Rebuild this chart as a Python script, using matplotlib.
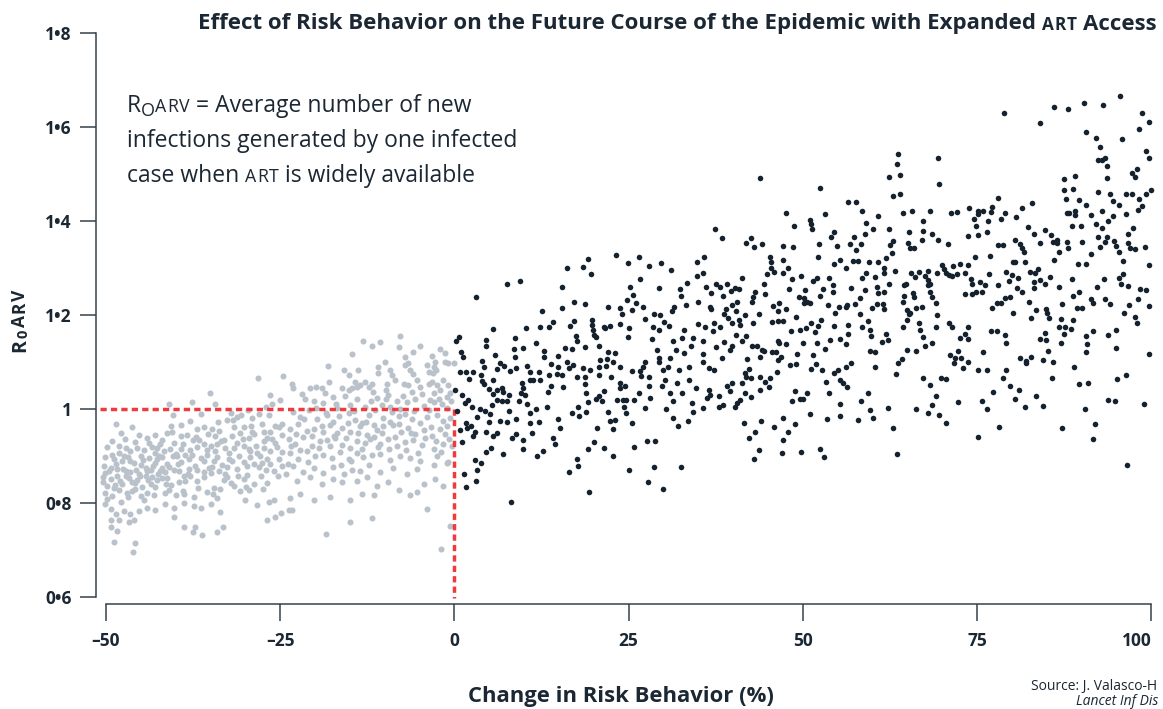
import matplotlib
matplotlib.use("Agg")
import matplotlib.pyplot as plt
from matplotlib.transforms import IdentityTransform

# ------------------------------------------------------------------
# values (change in risk behaviour %, R0ARV)
# ------------------------------------------------------------------

# risk behaviour reduced (-50 .. -24): grey points
grey_left = [
    (-28.2, 1.067), (-24.6, 1.070), (-35.1, 1.033), (-41.0, 1.010), (-37.6, 1.015), (-34.3, 1.010),
    (-26.4, 1.030), (-25.1, 1.019), (-26.2, 1.010), (-40.4, 0.987), (-36.4, 0.989), (-32.1, 0.992),
    (-31.2, 0.983), (-30.6, 0.987), (-29.0, 0.980), (-28.1, 0.990), (-26.6, 0.987),
    (-48.5, 0.969), (-46.3, 0.962), (-47.8, 0.948), (-45.2, 0.944), (-39.2, 0.966), (-40.7, 0.963),
    (-41.3, 0.948), (-37.0, 0.958), (-35.9, 0.962), (-34.8, 0.958), (-33.8, 0.953), (-32.6, 0.976),
    (-31.8, 0.976), (-31.7, 0.962), (-30.2, 0.962), (-29.2, 0.963), (-27.6, 0.968), (-27.3, 0.951),
    (-25.7, 0.963), (-25.2, 0.962), (-24.7, 0.969),
    (-38.4, 0.944), (-37.5, 0.935), (-37.1, 0.940), (-34.3, 0.943), (-33.1, 0.934), (-34.0, 0.925),
    (-31.9, 0.942), (-30.7, 0.949), (-29.5, 0.938), (-28.8, 0.946), (-26.9, 0.939), (-26.2, 0.936),
    (-24.7, 0.945),
    (-49.8, 0.919), (-49.1, 0.902), (-50.2, 0.898), (-48.2, 0.907), (-47.4, 0.900), (-46.6, 0.910),
    (-45.8, 0.930), (-45.5, 0.917), (-44.6, 0.913), (-43.4, 0.920), (-42.7, 0.916), (-42.2, 0.925),
    (-41.9, 0.934), (-43.0, 0.906), (-42.4, 0.899), (-41.7, 0.911), (-40.8, 0.914), (-40.0, 0.905),
    (-39.2, 0.915), (-37.9, 0.913), (-36.9, 0.919), (-35.9, 0.925), (-35.5, 0.912), (-35.0, 0.921),
    (-32.9, 0.917), (-32.4, 0.906), (-31.2, 0.928), (-30.2, 0.921), (-29.5, 0.914), (-28.3, 0.907),
    (-27.3, 0.918), (-26.4, 0.910), (-25.4, 0.920), (-24.7, 0.908),
    (-50.3, 0.879), (-49.3, 0.874), (-48.6, 0.882), (-47.7, 0.889), (-47.2, 0.868), (-46.0, 0.886),
    (-45.0, 0.881), (-44.3, 0.875), (-43.6, 0.871), (-42.9, 0.886), (-41.9, 0.874), (-41.2, 0.882),
    (-40.3, 0.870), (-39.3, 0.887), (-38.1, 0.893), (-37.2, 0.878), (-36.4, 0.896), (-35.2, 0.875),
    (-34.5, 0.889), (-33.3, 0.881), (-32.6, 0.876), (-31.9, 0.890), (-30.9, 0.899), (-30.2, 0.888),
    (-29.3, 0.897), (-28.8, 0.882), (-27.6, 0.886), (-26.9, 0.894), (-25.9, 0.868), (-24.7, 0.879),
    (-24.2, 0.861),
    (-50.5, 0.845), (-50.1, 0.863), (-49.3, 0.851), (-48.4, 0.857), (-47.7, 0.840), (-46.7, 0.853),
    (-46.2, 0.845), (-45.5, 0.848), (-44.8, 0.833), (-44.3, 0.858), (-43.6, 0.841), (-42.7, 0.850),
    (-41.9, 0.854), (-41.2, 0.853), (-40.7, 0.839), (-39.5, 0.844), (-38.6, 0.847), (-37.9, 0.858),
    (-36.9, 0.846), (-35.9, 0.855), (-34.5, 0.832), (-35.0, 0.864), (-33.6, 0.829), (-33.1, 0.848),
    (-31.7, 0.837), (-30.7, 0.826), (-30.2, 0.851), (-29.5, 0.828), (-28.8, 0.841), (-27.8, 0.857),
    (-26.9, 0.843),
    (-50.1, 0.822), (-49.1, 0.815), (-48.2, 0.828), (-47.0, 0.821), (-45.8, 0.829), (-45.0, 0.814),
    (-44.1, 0.822), (-43.1, 0.818), (-41.5, 0.821), (-40.0, 0.817), (-38.8, 0.819), (-37.4, 0.812),
    (-35.5, 0.823), (-34.0, 0.811), (-30.0, 0.806), (-28.3, 0.795), (-26.6, 0.802), (-25.9, 0.806),
    (-50.2, 0.797), (-49.3, 0.787), (-48.6, 0.776), (-47.4, 0.783), (-46.5, 0.776), (-45.3, 0.784),
    (-44.1, 0.789), (-42.9, 0.786), (-41.5, 0.797), (-40.3, 0.790), (-38.8, 0.801), (-37.4, 0.793),
    (-36.4, 0.790), (-35.0, 0.797), (-33.7, 0.781),
    (-49.3, 0.763), (-48.2, 0.763), (-46.7, 0.760), (-46.0, 0.763), (-49.3, 0.749), (-48.4, 0.741),
    (-40.3, 0.771), (-38.8, 0.749), (-37.2, 0.749), (-36.2, 0.732), (-37.5, 0.739), (-34.0, 0.739),
    (-33.2, 0.748), (-26.9, 0.764), (-25.7, 0.771), (-24.9, 0.778),
    (-48.8, 0.717), (-45.8, 0.715), (-46.1, 0.695),
    (-48.4, 0.872), (-49.8, 0.836), (-48.9, 0.831), (-47.2, 0.858), (-46.5, 0.867), (-45.3, 0.861),
    (-44.1, 0.868), (-43.4, 0.856), (-42.2, 0.869), (-41.5, 0.865), (-39.5, 0.868), (-38.8, 0.857),
    (-38.1, 0.872), (-35.9, 0.867), (-33.8, 0.869), (-32.6, 0.856), (-31.2, 0.873), (-29.7, 0.860),
    (-28.1, 0.876), (-26.4, 0.882), (-25.2, 0.893), (-39.8, 0.900), (-38.6, 0.903), (-42.7, 0.893),
    (-43.8, 0.896), (-45.0, 0.901), (-46.5, 0.889), (-47.2, 0.918), (-48.2, 0.921), (-35.5, 0.903),
    (-34.3, 0.911), (-29.3, 0.910), (-27.3, 0.932), (-40.3, 0.928), (-39.3, 0.943), (-44.1, 0.939),
    (-49.6, 0.868), (-48.9, 0.893), (-48.0, 0.846), (-47.5, 0.873), (-46.9, 0.897), (-46.3, 0.826),
    (-45.7, 0.871), (-45.1, 0.857), (-44.7, 0.891), (-44.0, 0.848), (-43.3, 0.879), (-42.6, 0.862),
    (-42.0, 0.897), (-41.4, 0.841), (-40.9, 0.876), (-40.4, 0.901), (-49.9, 0.808), (-47.9, 0.803),
    (-46.8, 0.812), (-44.6, 0.806), (-43.0, 0.833), (-41.0, 0.828), (-49.2, 0.931), (-47.3, 0.937),
    (-43.9, 0.928), (-42.9, 0.944), (-40.6, 0.951), (-50.4, 0.856), (-48.7, 0.838), (-45.9, 0.842),
    (-39.7, 0.884), (-38.9, 0.926), (-38.3, 0.861), (-37.7, 0.902), (-37.0, 0.871), (-36.6, 0.933),
    (-36.0, 0.889), (-35.4, 0.946), (-34.8, 0.876), (-34.1, 0.897), (-33.5, 0.931), (-32.9, 0.862),
    (-32.3, 0.894), (-31.6, 0.917), (-31.0, 0.858), (-30.4, 0.936), (-29.8, 0.879), (-29.1, 0.951),
    (-28.5, 0.922), (-27.9, 0.899), (-27.1, 0.871), (-26.5, 0.952), (-25.8, 0.927), (-25.3, 0.858),
    (-39.0, 0.826), (-36.8, 0.832), (-34.6, 0.820), (-32.1, 0.842), (-29.9, 0.834), (-27.4, 0.829),
    (-38.0, 0.975), (-33.9, 0.972), (-29.6, 0.997), (-27.0, 1.004),
]

# risk behaviour reduced (-24 .. 0): grey points
grey_right = [
    (-7.8, 1.156), (-13.1, 1.145), (-10.7, 1.143), (-11.8, 1.134), (-8.0, 1.132), (-4.9, 1.134),
    (-6.0, 1.122), (-1.4, 1.120), (-14.7, 1.117), (-7.1, 1.110), (-6.6, 1.097), (-7.1, 1.093),
    (-6.4, 1.083), (-3.2, 1.112), (-2.8, 1.100), (-2.9, 1.090), (-2.6, 1.083), (-3.1, 1.076),
    (-4.0, 1.093), (-3.7, 1.079), (-1.3, 1.100), (-0.9, 1.097), (-0.1, 1.097), (-18.2, 1.091),
    (-10.9, 1.090), (-11.0, 1.077), (-15.8, 1.083), (-15.1, 1.072), (-9.2, 1.083), (-9.0, 1.072),
    (-8.5, 1.061),
    (-23.3, 1.054), (-23.1, 1.044), (-13.5, 1.051), (-12.8, 1.058), (-12.3, 1.047), (-14.2, 1.058),
    (-14.0, 1.047), (-11.9, 1.054), (-11.7, 1.037), (-9.7, 1.054), (-9.8, 1.040), (-9.5, 1.029),
    (-7.3, 1.054), (-6.6, 1.051), (-6.1, 1.037), (-5.4, 1.061), (-5.0, 1.047), (-3.7, 1.054),
    (-3.2, 1.058), (-2.5, 1.051), (-2.0, 1.040), (-3.0, 1.033), (-3.5, 1.019), (-1.6, 1.061),
    (-0.9, 1.051), (-1.1, 1.026), (-0.6, 1.033), (-20.7, 1.044), (-19.8, 1.047), (-19.0, 1.044),
    (-18.6, 1.033), (-16.2, 1.044), (-15.2, 1.040), (-14.7, 1.044),
    (-21.4, 1.021), (-20.2, 1.016), (-18.8, 1.012), (-17.4, 1.025), (-17.0, 1.010), (-15.7, 1.028),
    (-15.0, 1.008), (-14.0, 1.022), (-12.8, 1.004), (-12.0, 1.017), (-11.1, 1.024), (-10.4, 1.009),
    (-9.2, 1.005), (-8.3, 1.018), (-7.8, 1.001), (-6.8, 1.014), (-5.6, 1.021), (-4.4, 1.006),
    (-3.0, 1.015), (-1.8, 1.010), (-1.1, 1.003), (-0.5, 1.016),
    (-23.1, 0.993), (-22.1, 0.984), (-20.9, 0.997), (-19.7, 0.978), (-18.3, 0.988), (-17.4, 0.972),
    (-16.6, 0.986), (-15.2, 0.991), (-14.2, 0.977), (-13.3, 0.970), (-12.3, 0.987), (-11.6, 0.966),
    (-10.2, 0.981), (-9.2, 0.973), (-8.0, 0.985), (-7.1, 0.990), (-6.1, 0.979), (-4.9, 0.971),
    (-4.0, 0.984), (-2.5, 0.988), (-1.6, 0.974), (-0.6, 0.980),
    (-23.6, 0.958), (-22.4, 0.969), (-21.2, 0.953), (-20.2, 0.957), (-19.0, 0.963), (-17.8, 0.966),
    (-16.9, 0.948), (-16.2, 0.959), (-15.0, 0.951), (-13.5, 0.964), (-12.6, 0.945), (-11.1, 0.955),
    (-10.4, 0.949), (-8.8, 0.965), (-7.6, 0.952), (-6.6, 0.960), (-5.6, 0.946), (-4.4, 0.956),
    (-3.2, 0.943), (-2.0, 0.958), (-1.1, 0.964),
    (-23.8, 0.936), (-22.9, 0.926), (-21.7, 0.940), (-20.5, 0.922), (-19.3, 0.931), (-18.3, 0.934),
    (-17.1, 0.939), (-16.2, 0.924), (-15.0, 0.918), (-14.0, 0.932), (-12.8, 0.927), (-11.6, 0.941),
    (-10.7, 0.925), (-9.5, 0.936), (-8.3, 0.921), (-7.1, 0.929), (-5.9, 0.934), (-4.7, 0.923),
    (-3.0, 0.915), (-1.6, 0.926),
    (-23.6, 0.907), (-22.4, 0.894), (-21.2, 0.911), (-20.0, 0.899), (-18.8, 0.903), (-17.6, 0.895),
    (-16.4, 0.908), (-15.2, 0.893), (-14.0, 0.906), (-13.1, 0.897), (-11.9, 0.902), (-10.7, 0.905),
    (-9.2, 0.892), (-7.8, 0.901), (-6.4, 0.896), (-4.9, 0.889), (-2.5, 0.900), (-1.1, 0.886),
    (-23.1, 0.879), (-21.7, 0.867), (-20.2, 0.874), (-18.8, 0.863), (-17.4, 0.876), (-15.9, 0.861),
    (-14.7, 0.870), (-13.5, 0.868), (-12.3, 0.881), (-10.7, 0.866), (-8.8, 0.875), (-6.8, 0.862),
    (-5.4, 0.873), (-3.0, 0.880),
    (-22.6, 0.846), (-20.7, 0.855), (-19.0, 0.840), (-17.4, 0.852), (-16.2, 0.845), (-14.0, 0.847),
    (-12.6, 0.855), (-11.1, 0.836), (-9.5, 0.844), (-8.0, 0.827), (-6.4, 0.817), (-5.3, 0.824),
    (-4.4, 0.840), (-2.8, 0.851), (-1.6, 0.836),
    (-23.6, 0.810), (-22.1, 0.820), (-20.2, 0.806), (-17.8, 0.813), (-15.0, 0.806), (-13.3, 0.820),
    (-11.6, 0.817), (-4.0, 0.788), (-0.9, 0.888), (-23.7, 0.786), (-23.3, 0.786), (-15.0, 0.760),
    (-11.9, 0.769), (-18.5, 0.735), (-1.9, 0.702), (-0.7, 0.751),
    (-23.9, 0.883), (-23.4, 0.921), (-22.7, 0.947), (-22.2, 0.912), (-21.6, 0.978), (-21.0, 0.887),
    (-20.4, 0.943), (-19.9, 1.002), (-19.4, 0.916), (-18.9, 0.952), (-18.5, 0.992), (-17.9, 0.921),
    (-17.3, 0.943), (-16.8, 1.003), (-16.3, 0.881), (-15.6, 0.938), (-15.3, 0.971), (-14.9, 0.889),
    (-14.4, 0.995), (-13.8, 0.948), (-13.2, 0.915), (-12.7, 0.972), (-12.1, 0.937), (-11.4, 0.998),
    (-10.9, 0.919), (-10.3, 0.963), (-9.8, 1.021), (-9.4, 0.915), (-8.9, 0.994), (-8.5, 0.941),
    (-7.9, 0.968), (-7.4, 1.027), (-6.9, 0.913), (-6.3, 0.948), (-5.8, 0.995), (-5.2, 0.907),
    (-4.7, 1.032), (-4.2, 0.939), (-3.6, 0.997), (-3.3, 0.962), (-2.7, 0.931), (-2.2, 1.022),
    (-1.9, 0.908), (-1.4, 0.947), (-0.8, 0.936), (-0.3, 0.921), (-21.9, 1.031), (-18.0, 1.058),
    (-13.9, 1.082), (-10.0, 1.101), (-5.9, 1.074), (-2.1, 1.128),
]

# risk behaviour increased (0 .. 35): dark points
dark_low = [
    (0.6, 1.154), (0.2, 1.144), (0.9, 1.122), (1.2, 1.110), (0.8, 1.078), (1.6, 1.078), (0.1, 1.040),
    (2.1, 1.064), (2.6, 1.078), (1.1, 1.029), (0.3, 0.996), (1.5, 1.012), (2.0, 1.020), (2.5, 1.005),
    (1.7, 0.971), (0.8, 0.956), (2.4, 0.963), (1.8, 0.959), (1.1, 0.929), (2.9, 0.951), (2.7, 0.942),
    (3.2, 0.984), (3.1, 1.238), (4.0, 1.103), (4.2, 1.090), (3.8, 1.073), (3.9, 1.059), (4.2, 1.054),
    (3.7, 1.000), (4.4, 0.995), (4.6, 0.952), (3.0, 0.892), (3.2, 0.871), (3.8, 0.885), (1.4, 0.861),
    (1.6, 0.834), (3.1, 0.847), (4.9, 0.973), (4.6, 1.134), (4.6, 1.146),
    (7.5, 1.266), (9.4, 1.273), (5.6, 1.170), (5.8, 1.115), (6.6, 1.098), (7.1, 1.092), (6.1, 1.085),
    (5.5, 1.062), (5.0, 1.043), (5.5, 1.032), (6.1, 1.041), (6.8, 1.044), (7.0, 1.037), (6.1, 1.020),
    (6.8, 1.017), (7.5, 1.017), (7.8, 1.030), (5.4, 1.008), (5.1, 0.989), (6.6, 0.975), (7.5, 0.973),
    (7.8, 0.995), (8.0, 1.081), (8.7, 1.152), (8.6, 1.127), (8.7, 1.110), (8.9, 1.087), (9.9, 1.130),
    (9.2, 1.017), (8.9, 0.978), (9.7, 1.055), (9.5, 1.034), (9.9, 1.044), (10.1, 1.030), (10.4, 1.010),
    (10.9, 0.991), (10.8, 0.971), (10.4, 1.092), (10.9, 1.078), (10.9, 1.062), (11.3, 1.062),
    (11.7, 1.140), (10.3, 1.172), (12.3, 1.174), (12.6, 1.208), (13.6, 1.174), (14.2, 1.185),
    (12.9, 1.124), (12.9, 1.110), (12.2, 1.078), (12.3, 1.062), (11.7, 1.000), (12.2, 0.973),
    (11.2, 0.949), (8.2, 0.938), (8.8, 0.947), (9.8, 0.935), (9.8, 0.915), (11.8, 0.901), (12.7, 0.910),
    (6.9, 0.904), (5.3, 0.917), (4.6, 0.908), (6.1, 0.950), (5.5, 0.942), (8.1, 0.802), (13.3, 1.005),
    (13.4, 1.037), (13.9, 1.048), (13.6, 1.073), (13.9, 1.096), (14.8, 1.113), (14.8, 1.090),
    (14.7, 1.075), (15.4, 1.073), (15.6, 1.047), (14.9, 0.979), (15.1, 0.959), (14.2, 0.938),
    (14.5, 0.925), (15.5, 1.259), (15.4, 1.215), (15.8, 1.130), (16.1, 1.101), (16.4, 1.088),
    (16.2, 1.301), (16.6, 1.176), (16.8, 1.127), (17.2, 1.227), (17.2, 1.188), (17.5, 1.156),
    (17.6, 1.144), (17.0, 1.094), (17.6, 1.069), (16.8, 0.991), (17.8, 1.005), (17.9, 0.986),
    (17.6, 0.894), (17.8, 0.879), (16.5, 0.866), (18.4, 1.303), (18.7, 1.223), (19.2, 1.320),
    (19.6, 1.288), (18.4, 1.087), (18.8, 1.132), (18.8, 1.068), (18.8, 1.054), (18.9, 1.035),
    (18.9, 0.993), (19.2, 1.015), (19.5, 1.083), (19.7, 1.190), (19.7, 1.179), (19.9, 1.169),
    (20.0, 1.158), (20.3, 1.154), (20.0, 0.930), (19.2, 0.915), (19.3, 0.823), (20.4, 0.959),
    (20.3, 1.022), (20.8, 1.027), (20.7, 1.073), (20.8, 1.090), (20.9, 1.105), (20.8, 1.133),
    (21.4, 1.174), (21.6, 1.172), (21.2, 1.016), (21.5, 1.039), (21.5, 0.918), (21.9, 1.106),
    (21.8, 1.092), (22.1, 1.122), (22.0, 1.216), (22.3, 1.177), (22.5, 1.069), (22.1, 0.993),
    (22.3, 0.975), (22.8, 1.099), (23.0, 1.120), (22.8, 0.899), (22.7, 0.958), (23.1, 0.977),
    (23.2, 1.327), (23.3, 1.020), (23.7, 1.090), (23.7, 1.215), (23.8, 1.181), (23.8, 1.055),
    (23.8, 1.044), (24.0, 1.203), (24.2, 1.020), (24.3, 1.005), (24.5, 1.048), (24.6, 1.020),
    (24.6, 0.991), (24.7, 1.231), (24.9, 1.310), (25.0, 1.172), (24.9, 1.154), (25.2, 1.259),
    (25.5, 1.211), (25.6, 1.243), (25.5, 1.080), (25.5, 0.971), (25.1, 0.871), (25.8, 0.920),
    (25.7, 1.020), (26.1, 1.225), (26.5, 1.323), (26.7, 1.276), (26.5, 1.034), (26.7, 1.080),
    (27.0, 1.218), (26.8, 1.071), (27.1, 1.090), (27.3, 1.101), (27.4, 1.191), (27.4, 1.003),
    (27.6, 0.931), (27.8, 0.844), (27.9, 1.305), (27.9, 1.068), (27.9, 1.048), (28.1, 1.023),
    (28.4, 1.149), (28.5, 1.174), (28.7, 1.202), (28.7, 0.876), (28.8, 0.932), (29.0, 1.126),
    (29.3, 1.108), (29.4, 1.101), (29.4, 1.257), (29.4, 1.169), (29.5, 1.200), (29.7, 1.310),
    (29.8, 1.048), (29.9, 0.830), (30.0, 1.083), (30.1, 1.186), (30.2, 1.062), (30.4, 1.000),
    (30.7, 1.089), (30.8, 1.176), (31.0, 1.108), (31.0, 1.035), (31.1, 1.295), (31.2, 1.209),
    (31.3, 1.144), (31.3, 0.980), (31.4, 1.016), (31.5, 1.217), (31.8, 1.126), (31.9, 1.056),
    (32.1, 0.963), (32.2, 1.083), (32.3, 1.255), (32.5, 0.876), (32.5, 1.241), (32.6, 1.151),
    (32.7, 1.035), (32.9, 1.169), (33.0, 1.119), (33.3, 1.222), (33.4, 1.269), (33.5, 0.975),
    (33.6, 1.062), (33.7, 1.090), (33.9, 1.133), (34.1, 1.012), (34.2, 0.993), (34.3, 1.152),
    (34.6, 1.044), (34.8, 1.312), (34.8, 1.282), (34.9, 1.181), (35.0, 1.227),
]

# risk behaviour increased (35 .. 70): dark points
dark_mid = [
    (43.9, 1.492), (37.4, 1.383), (38.4, 1.364), (35.8, 1.323), (35.7, 1.289), (41.3, 1.279),
    (36.1, 1.259), (36.8, 1.246), (37.5, 1.266), (38.1, 1.259), (38.6, 1.241), (39.1, 1.267),
    (39.7, 1.251), (40.2, 1.257), (40.9, 1.255), (40.6, 1.228), (39.8, 1.221), (39.0, 1.212),
    (38.7, 1.203), (36.8, 1.212), (36.7, 1.216), (36.0, 1.175), (37.3, 1.184), (37.1, 1.166),
    (38.1, 1.174), (39.2, 1.193), (39.9, 1.182), (40.4, 1.208), (40.9, 1.189), (41.0, 1.179),
    (41.7, 1.201), (35.6, 1.145), (35.7, 1.118), (35.7, 1.100), (36.5, 1.088), (37.2, 1.082),
    (37.5, 1.131), (38.4, 1.108), (38.7, 1.143), (39.5, 1.125), (39.9, 1.133), (40.4, 1.157),
    (41.2, 1.145), (41.9, 1.156), (35.7, 1.003), (36.2, 1.023), (36.6, 1.040), (36.7, 1.030),
    (37.9, 1.028), (37.9, 1.005), (38.6, 1.008), (39.1, 1.050), (39.5, 1.039), (39.9, 1.055),
    (40.3, 1.005), (40.5, 1.012), (41.0, 1.019), (41.2, 1.055), (41.7, 1.033), (41.5, 0.970),
    (41.7, 1.076), (41.9, 1.069), (42.2, 1.086), (42.5, 1.065), (42.5, 1.026), (42.3, 0.938),
    (43.1, 0.952), (43.0, 0.893), (43.7, 0.913), (44.0, 0.975), (42.0, 1.106), (42.7, 1.134),
    (43.4, 1.133), (44.2, 1.125), (44.4, 1.123), (43.9, 1.110), (43.8, 1.069), (43.9, 1.040),
    (44.6, 1.058), (45.1, 1.047), (45.3, 1.065), (45.8, 0.961), (45.5, 1.122), (46.2, 1.122),
    (46.3, 1.078), (46.4, 1.104), (46.6, 1.141), (46.8, 1.111), (47.2, 0.980), (47.2, 0.933),
    (47.0, 0.906), (47.8, 0.952), (48.9, 0.968), (48.4, 1.018), (48.9, 1.039), (49.0, 1.096),
    (48.1, 1.094), (49.2, 1.118), (50.0, 1.141), (49.6, 1.168), (50.5, 1.172), (51.1, 1.182),
    (51.8, 1.164), (51.5, 1.115), (51.9, 1.095), (51.1, 1.085), (52.7, 1.084), (53.2, 1.127),
    (52.0, 1.140), (52.1, 1.177), (52.6, 1.189), (49.6, 1.021), (50.0, 1.021), (50.6, 1.035),
    (51.0, 0.989), (49.8, 0.909), (52.5, 0.915), (53.0, 0.897), (53.4, 0.978), (53.7, 1.035),
    (53.3, 1.058), (45.8, 1.291), (45.3, 1.324), (45.4, 1.312), (45.4, 1.300), (44.8, 1.287),
    (44.4, 1.265), (44.6, 1.245), (43.1, 1.248), (42.8, 1.239), (42.7, 1.227), (43.7, 1.203),
    (42.9, 1.182), (41.8, 1.354), (42.6, 1.363), (43.0, 1.345), (44.2, 1.352), (47.2, 1.347),
    (48.6, 1.345), (47.6, 1.416), (48.7, 1.389), (47.2, 1.316), (47.8, 1.301), (47.1, 1.290),
    (48.4, 1.277), (48.0, 1.255), (45.7, 1.219), (46.6, 1.225), (46.5, 1.208), (47.6, 1.212),
    (47.1, 1.188), (47.6, 1.138), (49.0, 1.195), (46.4, 1.188), (45.5, 1.186), (46.5, 1.145),
    (48.3, 1.165), (49.7, 1.284), (49.4, 1.239), (50.3, 1.253), (50.2, 1.237), (50.1, 1.226),
    (50.6, 1.228), (51.0, 1.226), (51.0, 1.403), (51.1, 1.394), (51.3, 1.383), (52.2, 1.324),
    (52.3, 1.352), (51.4, 1.272), (52.0, 1.278), (52.5, 1.241), (52.9, 1.255), (52.5, 1.471),
    (53.2, 1.415), (54.0, 1.365), (54.4, 1.377), (54.9, 1.347), (54.5, 1.308), (53.8, 1.279),
    (54.3, 1.264), (54.3, 1.250), (53.6, 1.221), (54.6, 1.205), (54.5, 1.177), (53.9, 1.147),
    (54.5, 1.077), (55.1, 1.083), (55.3, 1.062), (55.8, 1.055), (56.4, 1.047), (56.2, 1.089),
    (56.9, 1.097), (55.4, 1.010), (55.3, 0.985), (55.4, 1.148), (56.2, 1.138), (56.5, 1.159),
    (56.5, 1.179), (56.2, 1.216), (56.3, 1.221), (55.2, 1.218), (55.4, 1.316), (56.2, 1.300),
    (56.5, 1.440), (57.6, 1.440), (57.3, 1.365), (56.8, 1.351), (57.6, 1.338), (57.2, 1.315),
    (57.9, 1.315), (58.5, 1.421), (59.0, 1.396), (58.9, 1.372), (58.3, 1.351), (56.9, 1.258),
    (57.5, 1.223), (58.2, 1.237), (58.5, 1.278), (59.0, 1.289), (58.9, 1.253), (58.2, 1.202),
    (58.5, 1.175), (59.3, 1.187), (59.6, 1.168), (59.8, 1.155), (59.7, 1.124), (60.4, 1.122),
    (60.4, 1.090), (59.3, 1.035), (58.4, 1.018), (59.6, 0.998), (60.0, 0.980), (57.9, 0.977),
    (60.0, 1.382), (60.8, 1.411), (59.5, 1.313), (59.9, 1.214), (60.4, 1.281), (60.6, 1.260),
    (60.8, 1.247), (60.7, 1.223), (61.5, 1.223), (61.7, 1.213), (60.8, 1.313), (61.6, 1.289),
    (61.7, 1.300), (61.9, 1.321), (62.4, 1.383), (62.5, 1.349), (62.8, 1.331), (63.0, 1.358),
    (63.2, 1.294), (62.4, 1.265), (61.7, 1.250), (61.3, 1.143), (61.9, 1.159), (62.2, 1.147),
    (62.2, 1.003), (63.0, 0.959), (63.5, 0.904), (63.4, 1.074), (63.6, 1.097), (64.2, 1.106),
    (64.4, 1.174), (65.0, 1.189), (65.2, 1.202), (64.9, 1.211), (65.4, 1.204), (65.0, 1.125),
    (64.3, 1.228), (64.5, 1.264), (64.8, 1.265), (65.8, 1.247), (65.9, 1.239), (66.3, 1.214),
    (67.1, 1.218), (66.6, 1.182), (66.8, 1.168), (67.3, 1.154), (67.5, 1.133), (66.3, 1.124),
    (68.5, 1.140), (69.1, 1.175), (69.2, 1.200), (69.1, 1.225), (68.6, 1.239), (68.3, 1.267),
    (67.9, 1.264), (68.0, 1.274), (67.5, 1.283), (67.9, 1.294), (66.6, 1.292), (66.1, 1.281),
    (65.5, 1.290), (69.2, 1.290), (68.2, 1.250), (65.4, 1.343), (65.9, 1.342), (65.1, 1.354),
    (65.2, 1.377), (67.1, 1.360), (67.3, 1.379), (67.2, 1.401), (65.6, 1.421), (64.3, 1.416),
    (64.0, 1.457), (62.9, 1.454), (62.3, 1.493), (63.9, 1.498), (63.5, 1.521), (63.6, 1.542),
    (68.2, 1.421), (69.4, 1.360), (68.6, 1.372), (69.5, 1.478), (69.4, 1.533), (64.5, 1.240),
    (67.3, 1.065), (68.3, 1.051), (69.1, 1.028), (68.6, 1.008), (68.0, 0.992), (66.2, 1.000),
    (69.5, 0.987),
]

# risk behaviour increased (70 .. 100): dark points
dark_high = [
    (78.9, 1.629), (84.0, 1.609), (86.1, 1.643), (88.0, 1.638), (90.4, 1.652), (93.0, 1.647),
    (95.5, 1.667), (98.6, 1.630), (99.7, 1.611), (98.3, 1.595), (95.8, 1.574), (92.1, 1.577),
    (90.6, 1.589), (92.6, 1.557), (92.4, 1.530), (92.9, 1.530), (93.4, 1.533), (93.7, 1.518),
    (93.7, 1.492), (99.2, 1.549), (99.6, 1.533), (97.9, 1.511), (97.2, 1.503), (97.6, 1.493),
    (100.0, 1.466), (99.3, 1.457), (98.3, 1.447), (98.6, 1.432), (98.1, 1.423), (97.3, 1.457),
    (96.3, 1.457), (96.3, 1.414), (94.5, 1.443), (94.1, 1.457), (95.4, 1.433), (94.5, 1.411),
    (93.8, 1.400), (92.9, 1.422), (92.3, 1.462), (91.3, 1.412), (90.7, 1.433), (89.6, 1.445),
    (89.1, 1.496), (88.7, 1.468), (87.5, 1.489), (87.5, 1.466), (87.8, 1.447), (87.9, 1.416),
    (88.2, 1.416), (89.1, 1.422), (89.0, 1.413), (88.6, 1.390), (89.9, 1.389), (92.1, 1.394),
    (92.9, 1.386), (92.3, 1.365), (93.7, 1.365), (93.3, 1.355), (92.6, 1.345), (91.4, 1.329),
    (90.1, 1.356), (94.7, 1.357), (95.0, 1.347), (95.3, 1.333), (96.7, 1.372), (97.4, 1.386),
    (96.7, 1.353), (96.9, 1.342), (97.7, 1.340), (99.1, 1.344), (95.9, 1.315), (99.7, 1.306),
    (96.0, 1.287), (95.3, 1.278), (95.7, 1.267), (96.7, 1.262), (98.4, 1.255), (99.3, 1.253),
    (99.6, 1.219), (98.1, 1.233), (96.8, 1.221), (96.1, 1.204), (97.7, 1.195), (97.9, 1.182),
    (93.2, 1.277), (92.2, 1.259), (93.4, 1.235), (94.1, 1.223), (91.3, 1.235), (91.6, 1.225),
    (89.6, 1.250), (88.8, 1.241), (89.4, 1.215), (90.1, 1.215), (88.6, 1.276), (89.5, 1.308),
    (90.6, 1.309), (86.0, 1.318), (86.7, 1.333), (85.9, 1.355), (86.4, 1.360), (86.4, 1.354),
    (87.9, 1.356), (88.0, 1.343), (84.8, 1.381), (85.6, 1.370), (84.1, 1.354), (83.2, 1.372),
    (82.3, 1.388), (82.9, 1.438), (81.4, 1.427), (80.6, 1.409), (79.0, 1.416), (78.4, 1.404),
    (77.2, 1.430), (77.0, 1.420), (78.0, 1.450), (76.5, 1.399), (76.4, 1.377), (75.2, 1.370),
    (74.8, 1.390), (74.5, 1.404), (75.2, 1.415), (75.9, 1.422), (75.2, 1.422), (73.8, 1.427),
    (73.7, 1.369), (72.1, 1.420), (71.2, 1.416), (70.8, 1.352), (78.0, 1.348), (78.7, 1.348),
    (80.4, 1.360), (81.1, 1.351), (81.4, 1.342), (81.7, 1.333), (80.4, 1.313), (81.9, 1.313),
    (80.1, 1.313), (76.8, 1.326), (74.7, 1.323), (73.7, 1.306), (72.5, 1.308), (71.6, 1.304),
    (70.9, 1.285), (71.4, 1.283), (72.1, 1.287), (69.9, 1.306), (70.2, 1.297), (70.5, 1.290),
    (73.2, 1.290), (74.1, 1.276), (74.2, 1.266), (73.3, 1.245), (74.2, 1.245), (74.9, 1.250),
    (75.7, 1.248), (75.4, 1.271), (76.1, 1.264), (76.7, 1.287), (78.0, 1.264), (79.2, 1.291),
    (79.6, 1.273), (80.0, 1.285), (80.8, 1.278), (80.7, 1.257), (81.4, 1.248), (79.0, 1.237),
    (79.7, 1.239), (77.8, 1.226), (78.5, 1.226), (77.2, 1.214), (80.1, 1.205), (82.4, 1.228),
    (82.7, 1.193), (83.5, 1.211), (83.2, 1.271), (84.0, 1.274), (83.2, 1.257), (83.8, 1.297),
    (83.3, 1.290), (82.6, 1.291), (84.8, 1.266), (85.5, 1.280), (84.9, 1.213), (85.1, 1.204),
    (85.3, 1.194), (86.8, 1.260), (87.2, 1.223), (87.0, 1.191), (86.7, 1.175), (87.6, 1.175),
    (88.7, 1.189), (88.5, 1.170), (87.5, 1.159), (87.1, 1.140), (84.7, 1.161), (84.0, 1.148),
    (84.9, 1.147), (85.2, 1.124), (85.9, 1.101), (84.4, 1.104), (85.7, 1.067), (81.1, 1.109),
    (82.0, 1.103), (82.0, 1.097), (82.7, 1.111), (83.4, 1.028), (84.4, 1.006), (81.9, 1.005),
    (80.4, 1.021), (81.0, 1.040), (79.7, 1.048), (79.2, 1.083), (78.7, 1.065), (77.3, 1.037),
    (75.7, 1.016), (76.4, 1.001), (78.1, 0.962), (75.2, 0.940), (79.1, 1.140), (79.0, 1.157),
    (77.9, 1.167), (77.0, 1.166), (75.9, 1.122), (75.2, 1.083), (76.4, 1.083), (73.7, 1.101),
    (73.0, 1.088), (72.7, 1.109), (71.9, 1.109), (71.7, 1.097), (71.1, 1.115), (72.2, 1.124),
    (73.3, 1.159), (73.7, 1.150), (72.5, 1.152), (73.7, 1.174), (71.0, 1.184), (71.4, 1.175),
    (69.8, 1.065), (70.5, 1.064), (72.2, 1.014), (70.5, 0.970), (87.2, 0.959), (90.5, 1.000),
    (91.9, 0.968), (91.6, 0.936), (96.5, 0.881), (98.9, 1.010), (93.8, 1.019), (94.8, 1.016),
    (95.1, 1.064), (96.3, 1.072), (99.6, 1.116), (95.0, 1.129), (93.8, 1.157), (94.9, 1.168),
    (91.7, 1.165), (90.6, 1.155), (90.8, 1.138), (90.6, 1.121), (88.9, 1.089), (89.6, 1.053),
    (90.9, 1.055),
]

x_ticks = [-50, -25, 0, 25, 50, 75, 100]
x_tick_labels = ["\u201350", "\u201325", "0", "25", "50", "75", "100"]
y_ticks = [0.6, 0.8, 1.0, 1.2, 1.4, 1.6, 1.8]
y_tick_labels = ["0\u20226", "0\u20228", "1", "1\u20222", "1\u20224", "1\u20226", "1\u20228"]

r0_threshold = 1.0      # R0ARV = 1
no_change = 0           # 0 % change in risk behaviour

INK = "#1b2733"
GREY = "#b9c2ca"
DARK = "#15222e"
RED = "#ee3b3f"
AXIS = "#34414d"

W, H = 1163, 709
plt.rcParams['font.family'] = ['Open Sans', 'DejaVu Sans']


def draw_runs(fig, x, y, runs, rotation=0, color=INK):
    # draws pieces of text one after the other on one baseline (pixel coords)
    # a number instead of a text just moves on by that many pixels
    rend = fig.canvas.get_renderer()
    for txt, size, weight, dy in runs:
        if isinstance(txt, (int, float)):
            adv = txt
        elif txt == " ":
            a = fig.text(0, 0, "a a", fontsize=size, fontweight=weight, transform=IdentityTransform())
            b = fig.text(0, 0, "aa", fontsize=size, fontweight=weight, transform=IdentityTransform())
            adv = a.get_window_extent(rend).width - b.get_window_extent(rend).width
            a.remove()
            b.remove()
        else:
            if rotation == 0:
                px, py = x, y - dy
            else:
                px, py = x + dy, y
            t = fig.text(px, py, txt, transform=IdentityTransform(), fontsize=size,
                         fontweight=weight, color=color, rotation=rotation,
                         rotation_mode='anchor', ha='left', va='baseline')
            bb = t.get_window_extent(renderer=rend)
            adv = bb.width if rotation == 0 else bb.height
        if rotation == 0:
            x += adv
        else:
            y += adv


fig = plt.figure(figsize=(W / 100, H / 100), dpi=100)
ax = fig.add_axes([106 / W, 112 / H, 1045.3 / W, 564 / H])
ax.set_xlim(-50, 100)
ax.set_ylim(0.6, 1.8)

grey = grey_left + grey_right
dark = dark_low + dark_mid + dark_high
ax.scatter([p[0] for p in grey], [p[1] for p in grey], s=19, c=GREY, linewidths=0,
           clip_on=False, zorder=2)
ax.plot([-50.8, no_change], [r0_threshold, r0_threshold], color=RED, lw=2.5,
        linestyle=(0, (1.8, 1.2)), clip_on=False, zorder=3)
ax.plot([no_change, no_change], [r0_threshold, 0.598], color=RED, lw=2.5,
        linestyle=(0, (1.8, 1.2)), clip_on=False, zorder=3)
ax.scatter([p[0] for p in dark], [p[1] for p in dark], s=16, c=DARK, linewidths=0,
           clip_on=False, zorder=4)

# detached axes
for side in ['top', 'right']:
    ax.spines[side].set_visible(False)
ax.spines['left'].set_position(('outward', 7.2))
ax.spines['bottom'].set_position(('outward', 5.0))
ax.spines['left'].set_bounds(0.6, 1.8)
ax.spines['bottom'].set_bounds(-50, 100)
for side in ['left', 'bottom']:
    ax.spines[side].set_color(AXIS)
    ax.spines[side].set_linewidth(1.1)

ax.set_xticks(x_ticks)
ax.set_xticklabels(x_tick_labels, fontweight='bold')
ax.set_yticks(y_ticks)
ax.set_yticklabels(y_tick_labels, fontweight='bold')
ax.tick_params(axis='x', length=12, width=1.1, pad=8, labelsize=12.5, color=AXIS, labelcolor=INK)
ax.tick_params(axis='y', length=11.5, width=1.1, pad=6, labelsize=12.5, color=AXIS, labelcolor=INK)
# last x label sits at the figure edge: keep it inside
ax.get_xticklabels()[-1].set_horizontalalignment('right')
ax.get_xticklabels()[-1].set_x(100.9)

# title with small-caps ART
draw_runs(fig, 198, H - 29.5, [
    ("Effect of Risk Behavior on the Future Course of the Epidemic with Expanded", 16.0, 'bold', 0),
    (" ", 16.0, 'bold', 0),
    ("A", 12.3, 'bold', 0), (1.0, 0, 0, 0),
    ("R", 12.3, 'bold', 0), (1.0, 0, 0, 0),
    ("T", 12.3, 'bold', 0),
    (" ", 16.0, 'bold', 0),
    ("Access", 16.0, 'bold', 0),
])

# explanation text
draw_runs(fig, 127, H - 112, [
    ("R", 16.5, 'normal', 0),
    ("O", 13.0, 'normal', 4.5),
    ("A", 12.8, 'normal', 0), (0.8, 0, 0, 0),
    ("R", 12.8, 'normal', 0), (0.8, 0, 0, 0),
    ("V", 12.8, 'normal', 0),
    (" ", 16.5, 'normal', 0),
    ("= Average number of new", 16.5, 'normal', 0),
])
draw_runs(fig, 127, H - 147, [
    ("infections generated by one infected", 16.5, 'normal', 0),
])
draw_runs(fig, 127, H - 182, [
    ("case when", 16.5, 'normal', 0),
    (" ", 16.5, 'normal', 0),
    ("A", 12.8, 'normal', 0), (0.8, 0, 0, 0),
    ("R", 12.8, 'normal', 0), (0.8, 0, 0, 0),
    ("T", 12.8, 'normal', 0),
    (" ", 16.5, 'normal', 0),
    ("is widely available", 16.5, 'normal', 0),
])

# y label, rotated, letter-spaced small caps
draw_runs(fig, 25, H - 352, [
    ("R", 14.0, 'bold', 0), (1.5, 0, 0, 0),
    ("0", 10.5, 'bold', 2.0), (2.0, 0, 0, 0),
    ("A", 12.5, 'bold', 0), (2.0, 0, 0, 0),
    ("R", 12.5, 'bold', 0), (0.5, 0, 0, 0),
    ("V", 12.5, 'bold', 0),
], rotation=90)

fig.text(621, 7, "Change in Risk Behavior (%)", transform=IdentityTransform(), fontsize=15.8,
         fontweight='bold', color=INK, ha='center', va='baseline')

fig.text(1031, H - 690, "Source: J. Valasco-H", transform=IdentityTransform(), fontsize=10,
         color=INK, ha='left', va='baseline')
fig.text(1076, 4, "Lancet Inf Dis", transform=IdentityTransform(), fontsize=10,
         fontstyle='italic', color=INK, ha='left', va='baseline')

fig.savefig("out.png", dpi=100)
